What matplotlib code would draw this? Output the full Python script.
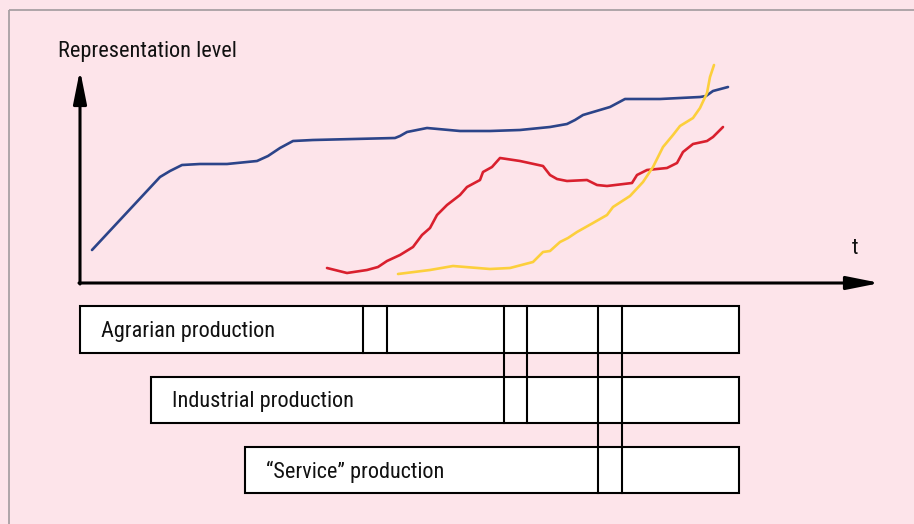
import matplotlib
matplotlib.use("Agg")
import matplotlib.pyplot as plt
import matplotlib.font_manager as fm
from matplotlib.patches import Rectangle

# canvas is laid out in pixel units of the reference (914 x 524)
W, H = 914, 524
BG = "#fde4ea"

# pick a narrow sans if one is installed, otherwise shrink a regular one
installed = {f.name for f in fm.fontManager.ttflist}
condensed = sorted({f.name for f in fm.fontManager.ttflist if f.stretch in ("condensed", "semi-condensed", 500 - 125)})
FONT, FSIZE, STRETCH = ["Liberation Sans", "DejaVu Sans"], 13.5, "normal"
for cand in ["Liberation Sans Narrow", "Roboto Condensed", "Open Sans Condensed", "DejaVu Sans Condensed"]:
    if cand in installed:
        FONT, FSIZE = [cand, "DejaVu Sans"], 16
        break
else:
    if condensed:
        FONT, FSIZE, STRETCH = [condensed[0], "DejaVu Sans"], 15, "condensed"

# ------------------------------------------------
# Data
# ------------------------------------------------
blue_x = [92, 160, 170, 182, 200, 227, 257, 268, 280, 293, 313, 395, 400, 407, 427,
          460, 490, 520, 550, 567, 575, 583, 610, 625, 660, 700, 706, 713, 728]
blue_y = [250, 177, 171, 165, 164, 164, 161, 156, 148, 141, 140, 138, 136, 132, 128,
          131, 131, 130, 127, 124, 120, 115, 107, 99, 99, 97, 96, 91, 87]

red_x = [327, 347, 367, 378, 387, 400, 413, 422, 430, 437, 447, 460, 467, 480, 483,
         492, 500, 520, 543, 550, 557, 567, 587, 597, 607, 632, 637, 647, 667, 677,
         683, 693, 707, 713, 723]
red_y = [268, 273, 270, 267, 261, 255, 247, 235, 228, 215, 205, 195, 187, 180, 172,
         167, 158, 161, 166, 175, 179, 181, 180, 185, 186, 183, 175, 170, 168, 163,
         152, 144, 141, 137, 127]

yellow_x = [398, 430, 453, 490, 510, 533, 543, 550, 560, 568, 577, 593, 607, 613, 630,
            643, 653, 663, 673, 680, 693, 700, 707, 710, 714]
yellow_y = [274, 270, 266, 269, 268, 262, 252, 251, 242, 238, 232, 223, 215, 207, 196,
            182, 167, 147, 135, 126, 118, 108, 93, 77, 65]

box_labels = ["Agrarian production", "Industrial production", "\u201cService\u201d production"]
box_left = [80, 151, 245]
box_right = 739
box_top = [306, 377, 447]
box_bottom = [353, 423, 493]

# divider pairs and the index of the lowest box they run through
dividers = [(363, 387, 0), (504, 527, 1), (598, 622, 2)]

origin = (80, 283)
y_tip = 70
x_tip = 880

# ------------------------------------------------
# Plot
# ------------------------------------------------
fig = plt.figure(figsize=(W / 100, H / 100), dpi=100, facecolor=BG)
ax = fig.add_axes([0, 0, 1, 1])
ax.set_xlim(0, W)
ax.set_ylim(H, 0)
ax.set_facecolor(BG)
ax.axis("off")

txt = dict(fontsize=FSIZE, family=FONT, fontstretch=STRETCH, color="#111111")

# outer frame
ax.add_patch(Rectangle((9, 10), W, H, fill=False, edgecolor="#a8a0a4", lw=1.3))

# axes arrows
arrow = dict(arrowstyle="-|>,head_length=1.0,head_width=0.2", mutation_scale=20,
             lw=2.2, color="black", shrinkA=0, shrinkB=0)
ax.annotate("", xy=(origin[0], y_tip), xytext=(origin[0], origin[1] + 1), arrowprops=arrow)
ax.annotate("", xy=(x_tip, origin[1]), xytext=(origin[0] - 1, origin[1]), arrowprops=arrow)

ax.text(58, 52, "Representation level", va="center", ha="left", **txt)
ax.text(855, 249, "t", va="center", ha="center", **txt)

# curves
ax.plot(blue_x, blue_y, color="#2c4489", lw=1.9, solid_capstyle="round")
ax.plot(red_x, red_y, color="#d9202e", lw=1.9, solid_capstyle="round")
ax.plot(yellow_x, yellow_y, color="#fccf3c", lw=1.9, solid_capstyle="round")

# production boxes
for lab, left, top, bot in zip(box_labels, box_left, box_top, box_bottom):
    ax.add_patch(Rectangle((left, top), box_right - left, bot - top,
                           facecolor="white", edgecolor="black", lw=1.5, zorder=2))
    ax.text(left + 21, (top + bot) / 2 + 2, lab, va="center", ha="left", zorder=4, **txt)

for x1, x2, lowest in dividers:
    for xv in (x1, x2):
        ax.plot([xv, xv], [box_top[0], box_bottom[lowest]], color="black", lw=1.5, zorder=3)

fig.savefig("out.png", dpi=100, facecolor=BG)
